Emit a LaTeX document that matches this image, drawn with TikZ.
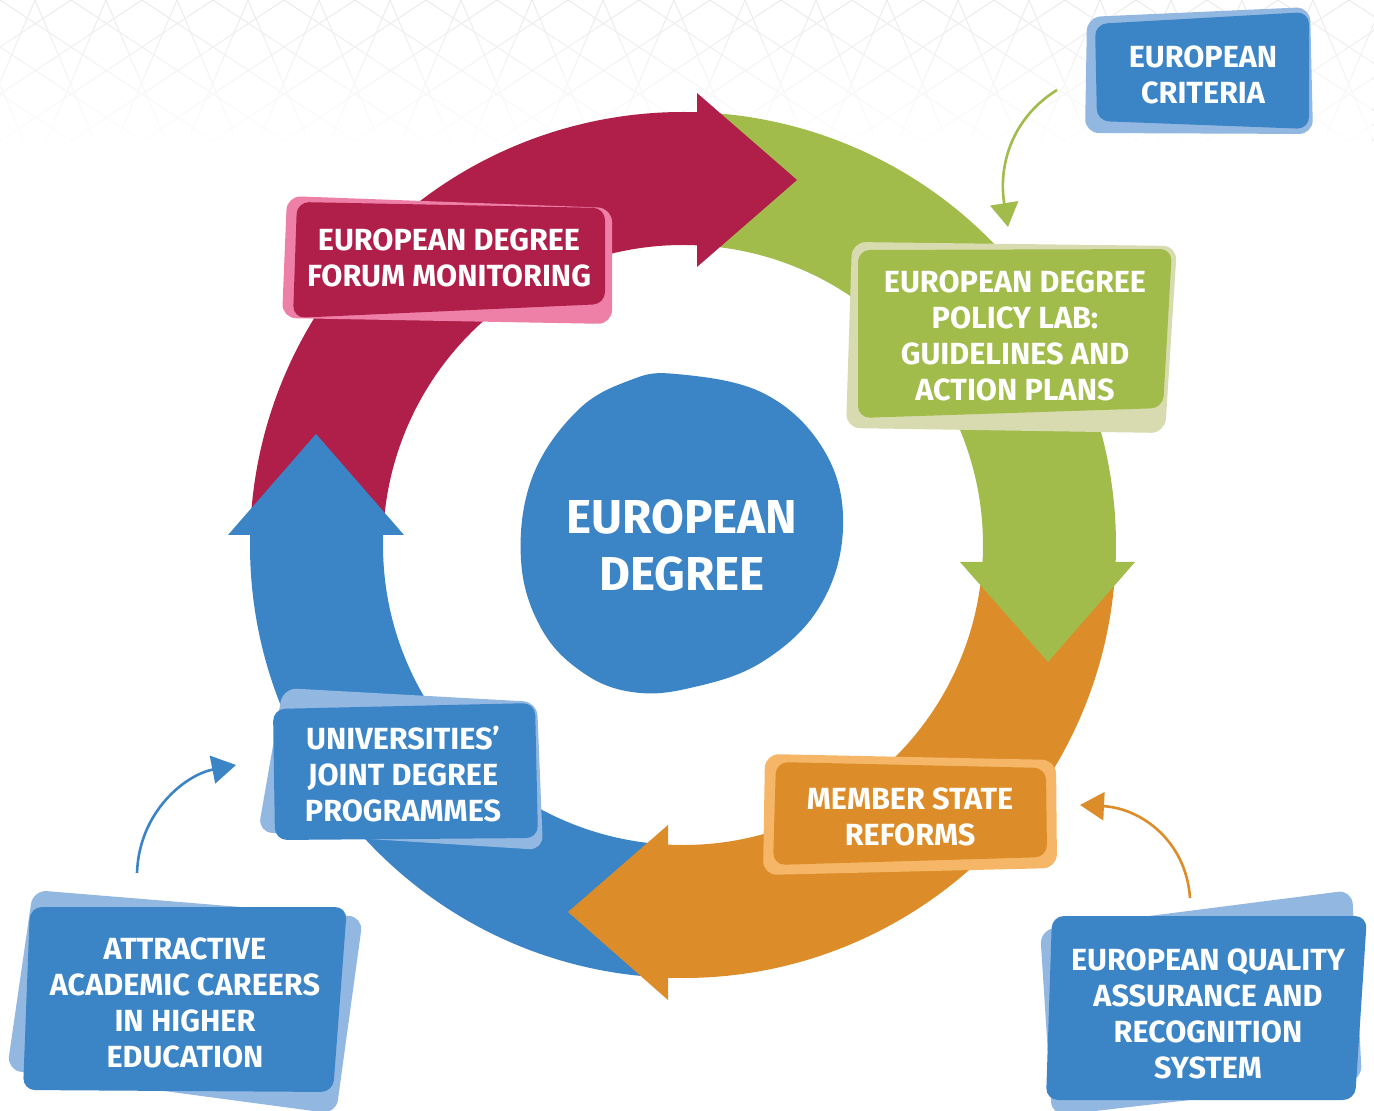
\documentclass[tikz,border=0pt]{standalone}
\usepackage{fontspec}
\newfontfamily\fira{Fira Sans}
\usetikzlibrary{arrows.meta,fadings}
\definecolor{redc}{HTML}{B01E4A}
\definecolor{pinkc}{HTML}{EE80A8}
\definecolor{greenc}{HTML}{A1BC4A}
\definecolor{palegreen}{HTML}{D8DBB0}
\definecolor{orangec}{HTML}{DC8C28}
\definecolor{lightorange}{HTML}{F5B767}
\definecolor{bluec}{HTML}{3B84C6}
\definecolor{lightblue}{HTML}{92B8E2}
\definecolor{patc}{HTML}{EBEBEB}
\tikzfading[name=fadedown, top color=transparent!100, bottom color=transparent!0]
\begin{document}
\begin{tikzpicture}[x=0.5pt,y=-0.5pt,
  lbl/.style={align=center, text=white, inner sep=0pt,
    font=\fira\bfseries\fontsize{15.3}{18}\selectfont},
  bigl/.style={align=center, text=white, inner sep=0pt,
    font=\fira\bfseries\fontsize{23.8}{28.5}\selectfont},
  backbox/.style={rounded corners=7pt},
  frontbox/.style={rounded corners=6pt},
  pat/.style={draw=patc, line width=0.5pt},
  conn/.style={line width=1.3pt, -{Triangle[length=12pt,width=14pt]}}
]
\useasboundingbox (0,0) rectangle (1374,1111);
\fill[white] (0,0) rectangle (1374,1111);
% background pattern
\begin{scope}
\clip (0,0) rectangle (1374,170);
\foreach \i in {-6,...,26}{
  \draw[pat] (\i*71,0) -- ++(213,141);
  \draw[pat] (\i*71,0) -- ++(-213,141);
  \draw[pat] (\i*71+35,0) -- ++(60,141);
  \draw[pat] (\i*71+35,0) -- ++(-60,141);
}
\end{scope}
\fill[white, path fading=fadedown] (0,0) rectangle (1374,150);
\fill[white] (0,150) rectangle (1374,170);
% ring shafts
\begin{scope}[shift={(683,545)}]
\fill[redc] (183.3:433) arc[start angle=183.3, end angle=274, radius=433]
  -- (274:300) arc[start angle=274, end angle=183.3, radius=300] -- cycle;
\fill[greenc] (274:433) arc[start angle=274, end angle=364.5, radius=433]
  -- (364.5:300) arc[start angle=364.5, end angle=274, radius=300] -- cycle;
\fill[orangec] (4.4:433) arc[start angle=4.4, end angle=94.2, radius=433]
  -- (94.2:300) arc[start angle=94.2, end angle=4.4, radius=300] -- cycle;
\fill[bluec] (94.1:433) arc[start angle=94.1, end angle=183.5, radius=433]
  -- (183.5:300) arc[start angle=183.5, end angle=94.1, radius=300] -- cycle;
\end{scope}
% heads
\fill[redc] (697,93) -- (797,180) -- (697,267) -- cycle;
\fill[greenc] (960,562) -- (1048,662) -- (1135,562) -- cycle;
\fill[orangec] (668,825) -- (568,912) -- (668,1000) -- cycle;
\fill[bluec] (228,535) -- (316,434) -- (404,535) -- cycle;
% centre blob
\fill[bluec] plot[smooth cycle, tension=0.65] coordinates {
  (676,374) (765,394) (825,452) (843,528) (820,606) (762,662)
  (690,688) (632,692) (582,672) (541,628) (521,560) (532,478)
  (576,412) (628,381)};
\node[bigl] (centre) at (682,546) {EUROPEAN\\DEGREE};
% forum monitoring
\fill[pinkc, backbox] (287,196) -- (612,208) -- (612,324) -- (282,318) -- cycle;
\fill[redc, frontbox] (297,202) -- (605,208) -- (605,304) -- (293,318) -- cycle;
\node[lbl] (forum) at (449,258) {EUROPEAN DEGREE\\FORUM MONITORING};
% policy lab
\fill[palegreen, backbox] (852,242) -- (1177,246) -- (1165,433) -- (846,428) -- cycle;
\fill[greenc, frontbox] (858,250) -- (1172,249) -- (1163,408) -- (858,418) -- cycle;
\node[lbl] (lab) at (1015,336) {EUROPEAN DEGREE\\POLICY LAB:\\GUIDELINES AND\\ACTION PLANS};
% universities
\fill[lightblue, backbox] (283,688) -- (537,702) -- (543,850) -- (258,832) -- cycle;
\fill[bluec, frontbox] (273,709) -- (535,703) -- (538,838) -- (275,840) -- cycle;
\node[lbl] (univ) at (403,774) {UNIVERSITIES’\\JOINT DEGREE\\PROGRAMMES};
% member state
\fill[lightorange, backbox] (765,754) -- (1056,760) -- (1057,868) -- (763,875) -- cycle;
\fill[orangec, frontbox] (776,762) -- (1046,768) -- (1047,857) -- (773,865) -- cycle;
\node[lbl] (member) at (910,817) {MEMBER STATE\\REFORMS};
% european criteria
\fill[lightblue, backbox] (1087,17) -- (1310,7) -- (1313,134) -- (1085,133) -- cycle;
\fill[bluec, frontbox] (1095,24) -- (1309,12) -- (1309,129) -- (1097,121) -- cycle;
\node[lbl] (crit) at (1203,75) {EUROPEAN\\CRITERIA};
% quality assurance
\fill[lightblue, backbox] (1040,930) -- (1352,890) -- (1362,1080) -- (1052,1116) -- cycle;
\fill[bluec, frontbox] (1052,916) -- (1367,916) -- (1355,1100) -- (1046,1100) -- cycle;
\node[lbl] (eqa) at (1208,1014) {EUROPEAN QUALITY\\ASSURANCE AND\\RECOGNITION\\SYSTEM};
% careers
\fill[lightblue, backbox] (33,890) -- (363,917) -- (336,1114) -- (7,1070) -- cycle;
\fill[bluec, frontbox] (30,907) -- (347,907) -- (333,1092) -- (23,1090) -- cycle;
\node[lbl] (careers) at (185,1003) {ATTRACTIVE\\ACADEMIC CAREERS\\IN HIGHER\\EDUCATION};
% connectors
\coordinate (critout) at (1057,90);
\coordinate (labin) at (1008,227);
\coordinate (eqaout) at (1190,898);
\coordinate (memberin) at (1080,805);
\coordinate (careersout) at (137,873);
\coordinate (univin) at (236,765);
\draw[conn, greenc] (critout) .. controls (1012,118) and (998,165) .. (labin);
\draw[conn, orangec] (eqaout) .. controls (1186,840) and (1140,808) .. (memberin);
\draw[conn, bluec] (careersout) .. controls (139,812) and (185,775) .. (univin);
\end{tikzpicture}
\end{document}
